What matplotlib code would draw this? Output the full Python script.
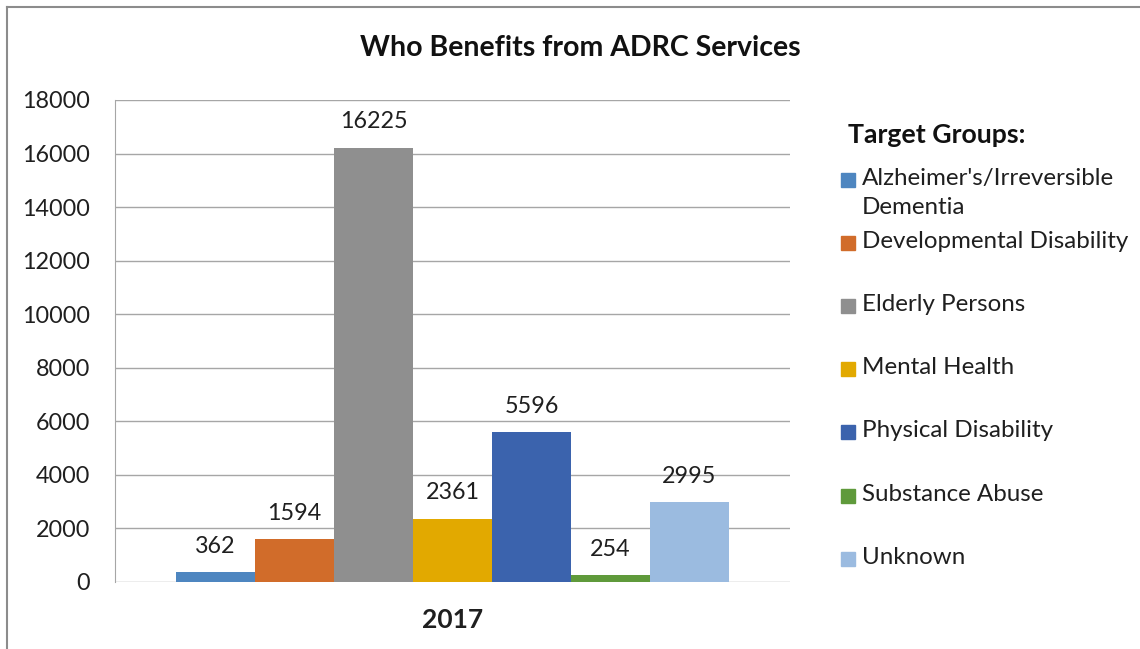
import matplotlib.pyplot as plt
from matplotlib.patches import Rectangle
from matplotlib.lines import Line2D

plt.rcParams['font.family'] = ['Lato', 'DejaVu Sans']

groups = ["Alzheimer's/Irreversible\nDementia", 'Developmental Disability', 'Elderly Persons',
          'Mental Health', 'Physical Disability', 'Substance Abuse', 'Unknown']
values = [362, 1594, 16225, 2361, 5596, 254, 2995]
colors = ['#4e86c0', '#d16c2a', '#8f8f8f', '#e2a900', '#3b63ad', '#5f9a3b', '#9bbbe0']
year = '2017'
yticks = [0, 2000, 4000, 6000, 8000, 10000, 12000, 14000, 16000, 18000]

txt = '#1f1f1f'
grid = '#a6a6a6'
fs = 16.8

fig = plt.figure(figsize=(11.4, 6.49), dpi=100)
ax = fig.add_axes([115 / 1140, 1 - 582 / 649, 675 / 1140, 482 / 649])

bw = 0.117
n = len(values)
for i, (v, c) in enumerate(zip(values, colors)):
    x = (i - (n - 1) / 2) * bw
    ax.bar(x, v, width=bw, color=c, zorder=3)
    ax.annotate(str(v), (x, v), xytext=(0, 11), textcoords='offset points',
                ha='center', va='bottom', fontsize=fs, color=txt)

ax.set_xlim(-0.5, 0.5)
ax.set_ylim(0, 18000)
ax.set_yticks(yticks)
ax.set_yticklabels([str(t) for t in yticks], fontsize=fs, color=txt)
ax.set_xticks([0])
ax.set_xticklabels([year], fontsize=19, fontweight='bold', color=txt)
ax.tick_params(axis='y', length=0, pad=18)
ax.tick_params(axis='x', length=0, pad=19)
ax.yaxis.grid(True, color=grid, linewidth=1, zorder=0)
ax.set_axisbelow(True)
for s in ['top', 'right', 'bottom']:
    ax.spines[s].set_visible(False)
ax.spines['left'].set_color(grid)

fig.text(580 / 1140, 1 - 48 / 649, 'Who Benefits from ADRC Services', ha='center', va='center',
         fontsize=20.5, fontweight='bold', color='#111111')

# legend drawn by hand to keep Excel-like spacing
fig.text(848 / 1140, 1 - 135 / 649, 'Target Groups:', ha='left', va='center',
         fontsize=19.2, fontweight='bold', color='#111111')
leg_y = [180, 243, 306, 369, 432, 496, 559]
for lab, c, y in zip(groups, colors, leg_y):
    fig.patches.append(Rectangle((841 / 1140, 1 - (y + 7) / 649), 14 / 1140, 14 / 649,
                                 transform=fig.transFigure, color=c))
    fig.text(862 / 1140, 1 - (y - 12) / 649, lab, ha='left', va='top', fontsize=17.4,
             color=txt, linespacing=1.5)

# outer frame (top and left edges visible)
fig.add_artist(Line2D([7 / 1140, 1], [1 - 7 / 649] * 2, transform=fig.transFigure, color='#8c8c8c', lw=1.5))
fig.add_artist(Line2D([7 / 1140] * 2, [0, 1 - 7 / 649], transform=fig.transFigure, color='#8c8c8c', lw=1.5))

fig.savefig('out.png', dpi=100)
